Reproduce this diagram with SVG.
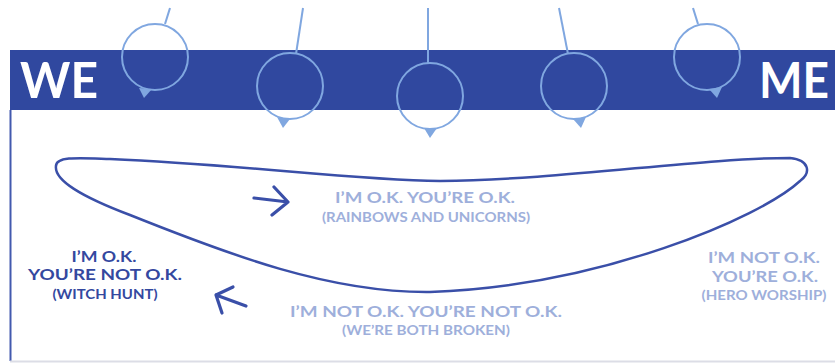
<svg xmlns="http://www.w3.org/2000/svg" width="835" height="363" viewBox="0 0 835 363">
<style>
.ball{fill:none;stroke:#80a7e0;stroke-width:2}
.rod{stroke:#80a7e0;stroke-width:2}
.tail{fill:#80a7e0}
.big{font-family:Lato,"Liberation Sans",sans-serif;font-weight:bold;fill:#ffffff;font-size:50px}
.lt{font-family:Lato,"Open Sans",sans-serif;font-weight:bold;fill:#9eafdb;text-anchor:middle}
.dk{font-family:Lato,"Open Sans",sans-serif;font-weight:bold;fill:#34489f;text-anchor:middle}
.line{fill:none;stroke:#3a4fa8;stroke-width:2.5;stroke-linecap:round;stroke-linejoin:round}
.arrow{fill:none;stroke:#3a4fa8;stroke-width:3.2;stroke-linecap:round;stroke-linejoin:round}
</style>
<rect x="0" y="0" width="835" height="363" fill="#ffffff"/>
<g id="frame">
<rect x="10" y="50" width="825" height="60" fill="#30489f"/>
<line x1="10.5" y1="110" x2="10.5" y2="361" stroke="#4259ae" stroke-width="2"/>
<line x1="10" y1="361.5" x2="835" y2="361.5" stroke="#dcdde6" stroke-width="2"/>
<text class="big" x="20" y="98" textLength="78" lengthAdjust="spacingAndGlyphs">WE</text>
<text class="big" x="759" y="98" textLength="70" lengthAdjust="spacingAndGlyphs">ME</text>
</g>
<g id="pendulum1">
<line class="rod" x1="170" y1="8" x2="165" y2="24"/>
<circle class="ball" cx="155" cy="57" r="33"/>
<polygon class="tail" points="139,88 152,89 144,98"/>
</g>
<g id="pendulum2">
<line class="rod" x1="303" y1="8" x2="296" y2="54"/>
<circle class="ball" cx="290" cy="86" r="33"/>
<polygon class="tail" points="277,117 290,119 283,128"/>
</g>
<g id="pendulum3">
<line class="rod" x1="428" y1="8" x2="428" y2="63"/>
<circle class="ball" cx="430" cy="96" r="33"/>
<polygon class="tail" points="424,128 437,128 430,138"/>
</g>
<g id="pendulum4">
<line class="rod" x1="559" y1="8" x2="568" y2="54"/>
<circle class="ball" cx="574" cy="86" r="33"/>
<polygon class="tail" points="573,119 586,117 581,128"/>
</g>
<g id="pendulum5">
<line class="rod" x1="693" y1="8" x2="698" y2="24"/>
<circle class="ball" cx="707" cy="57" r="33"/>
<polygon class="tail" points="709,89 722,87 717,98"/>
</g>
<g id="connectors">
<path class="line" d="M 56,166 C 56,156 80,158 110,159 C 250,165 350,180 440,181 C 560,180 700,158 790,158 C 810,160 811,173 800,181 C 760,218 600,286 430,292 C 330,293 230,255 130,215 C 80,196 54,180 56,166 Z"/>
<path class="arrow" d="M 254,198 L 288,202 M 274,187 L 288,202 L 272,215"/>
<path class="arrow" d="M 246,306 L 216,295 M 233,287 L 216,295 L 222,313"/>
</g>
<g id="ok-ok">
<text class="lt" x="425" y="203" font-size="16" textLength="180" lengthAdjust="spacingAndGlyphs">I’M O.K. YOU’RE O.K.</text>
<text class="lt" x="426" y="222" font-size="12.5" textLength="208" lengthAdjust="spacingAndGlyphs">(RAINBOWS AND UNICORNS)</text>
</g>
<g id="ok-notok">
<text class="dk" x="104" y="262" font-size="16" textLength="65" lengthAdjust="spacingAndGlyphs">I’M O.K.</text>
<text class="dk" x="105" y="280" font-size="16" textLength="154" lengthAdjust="spacingAndGlyphs">YOU’RE NOT O.K.</text>
<text class="dk" x="105" y="299" font-size="12.5" textLength="105" lengthAdjust="spacingAndGlyphs">(WITCH HUNT)</text>
</g>
<g id="notok-notok">
<text class="lt" x="426" y="317" font-size="16" textLength="272" lengthAdjust="spacingAndGlyphs">I’M NOT O.K. YOU’RE NOT O.K.</text>
<text class="lt" x="426" y="335" font-size="12.5" textLength="168" lengthAdjust="spacingAndGlyphs">(WE’RE BOTH BROKEN)</text>
</g>
<g id="notok-ok">
<text class="lt" x="764" y="263" font-size="16" textLength="112" lengthAdjust="spacingAndGlyphs">I’M NOT O.K.</text>
<text class="lt" x="765" y="282" font-size="16" textLength="106" lengthAdjust="spacingAndGlyphs">YOU’RE O.K.</text>
<text class="lt" x="764" y="300" font-size="12.5" textLength="125" lengthAdjust="spacingAndGlyphs">(HERO WORSHIP)</text>
</g>
</svg>
